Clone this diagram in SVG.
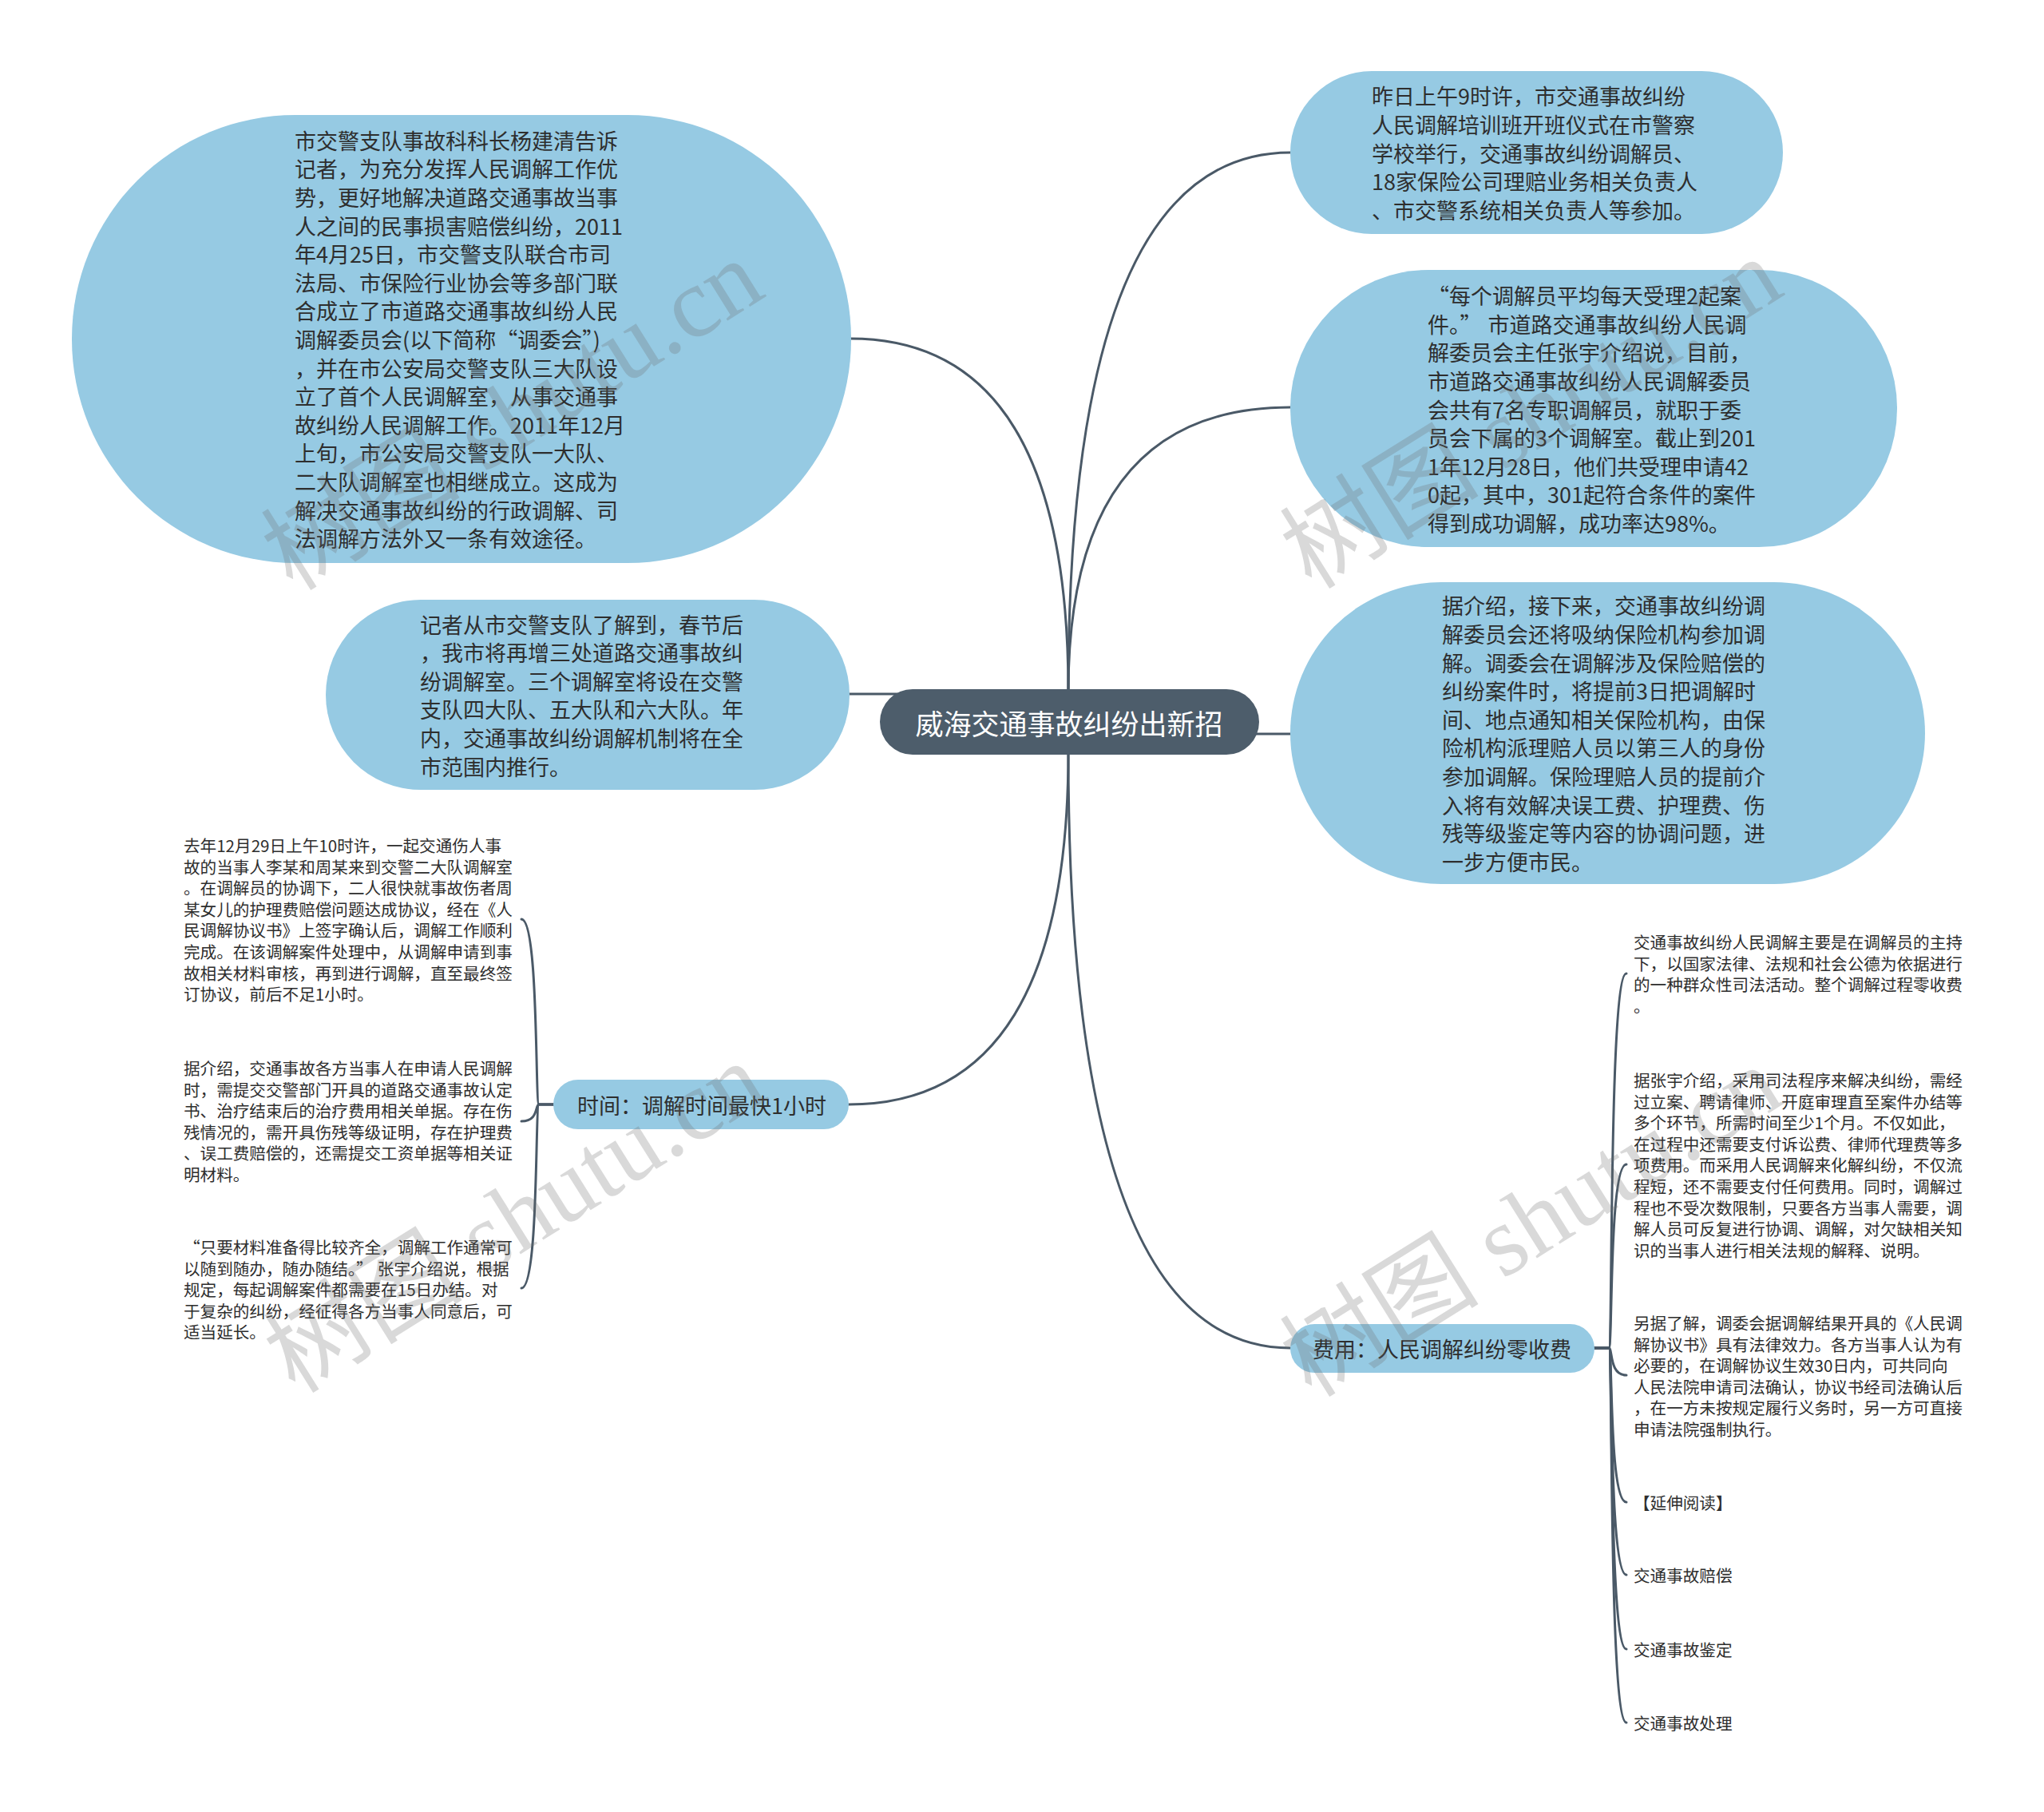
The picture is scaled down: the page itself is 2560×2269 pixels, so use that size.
<svg xmlns="http://www.w3.org/2000/svg" width="2560" height="2269" viewBox="0 0 2560 2269">
<style>
.bg{fill:#ffffff}
.node{fill:#96cae3}
.root{fill:#4d5d6b}
.edge{fill:none;stroke:#4a5967;stroke-width:3;stroke-linecap:round}
.t{font-family:"Noto Sans CJK SC","Noto Sans",sans-serif;font-size:27px;fill:#2e2e2e;dominant-baseline:central}
.s{font-family:"Noto Sans CJK SC","Noto Sans",sans-serif;font-size:20.6px;fill:#2e2e2e;dominant-baseline:central}
.rt{font-family:"Noto Sans CJK SC","Noto Sans",sans-serif;font-size:35px;fill:#ffffff;dominant-baseline:central;text-anchor:middle}
.mt{font-family:"Noto Sans CJK SC","Noto Sans",sans-serif;font-size:27px;fill:#2e2e2e;dominant-baseline:central;text-anchor:middle}
.wm{font-family:"Liberation Serif","Noto Sans CJK SC",serif;font-size:125px;fill:#6e6e6e;fill-opacity:0.26;text-anchor:middle;dominant-baseline:central}
</style>
<rect class="bg" x="0" y="0" width="2560" height="2269"/>

<g id="connectors">
<path class="edge" d="M1338 866 Q1338 424 1065 424"/>
<path class="edge" d="M1338 866 Q1338 191 1616 191"/>
<path class="edge" d="M1338 866 Q1338 510 1616 510"/>
<path class="edge" d="M1125 869 L1062 869"/>
<path class="edge" d="M1568 919 L1616 919"/>
<path class="edge" d="M1338 942 Q1338 1383 1063 1383"/>
<path class="edge" d="M1338 942 Q1338 1688 1616 1688"/>
<path class="edge" d="M693 1383 L675 1383 C670 1383 675 1151 653 1151"/>
<path class="edge" d="M693 1383 L675 1383 C670 1383 675 1404 653 1404"/>
<path class="edge" d="M693 1383 L675 1383 C670 1383 675 1613 653 1613"/>
<path class="edge" d="M1997 1688 L2015 1688 C2020 1688 2015 1219 2037 1219"/>
<path class="edge" d="M1997 1688 L2015 1688 C2020 1688 2015 1458 2037 1458"/>
<path class="edge" d="M1997 1688 L2015 1688 C2020 1688 2015 1722 2037 1722"/>
<path class="edge" d="M1997 1688 L2015 1688 C2020 1688 2015 1881 2037 1881"/>
<path class="edge" d="M1997 1688 L2015 1688 C2020 1688 2015 1972 2037 1972"/>
<path class="edge" d="M1997 1688 L2015 1688 C2020 1688 2015 2065 2037 2065"/>
<path class="edge" d="M1997 1688 L2015 1688 C2020 1688 2015 2157 2037 2157"/>
</g>

<g id="root">
<rect class="root" x="1102" y="863" width="475" height="82" rx="41"/>
<text class="rt" x="1339" y="904">威海交通事故纠纷出新招</text>
</g>

<g id="node-left-1">
<rect class="node" x="90" y="144" width="976" height="561" rx="280"/>
<text class="t" x="369" y="175.3">市交警支队事故科科长杨建清告诉</text>
<text class="t" x="369" y="210.9">记者，为充分发挥人民调解工作优</text>
<text class="t" x="369" y="246.5">势，更好地解决道路交通事故当事</text>
<text class="t" x="369" y="282.1">人之间的民事损害赔偿纠纷，2011</text>
<text class="t" x="369" y="317.7">年4月25日，市交警支队联合市司</text>
<text class="t" x="369" y="353.3">法局、市保险行业协会等多部门联</text>
<text class="t" x="369" y="388.9">合成立了市道路交通事故纠纷人民</text>
<text class="t" x="369" y="424.5">调解委员会(以下简称“调委会”)</text>
<text class="t" x="369" y="460.1">，并在市公安局交警支队三大队设</text>
<text class="t" x="369" y="495.7">立了首个人民调解室，从事交通事</text>
<text class="t" x="369" y="531.3">故纠纷人民调解工作。2011年12月</text>
<text class="t" x="369" y="566.9">上旬，市公安局交警支队一大队、</text>
<text class="t" x="369" y="602.5">二大队调解室也相继成立。这成为</text>
<text class="t" x="369" y="638.1">解决交通事故纠纷的行政调解、司</text>
<text class="t" x="369" y="673.7">法调解方法外又一条有效途径。</text>
</g>

<g id="node-left-2">
<rect class="node" x="408" y="751" width="656" height="238" rx="119"/>
<text class="t" x="526" y="781">记者从市交警支队了解到，春节后</text>
<text class="t" x="526" y="816.6">，我市将再增三处道路交通事故纠</text>
<text class="t" x="526" y="852.2">纷调解室。三个调解室将设在交警</text>
<text class="t" x="526" y="887.8">支队四大队、五大队和六大队。年</text>
<text class="t" x="526" y="923.4">内，交通事故纠纷调解机制将在全</text>
<text class="t" x="526" y="959">市范围内推行。</text>
</g>

<g id="node-time">
<rect class="node" x="693" y="1352" width="370" height="62" rx="31"/>
<text class="mt" x="879" y="1383">时间：调解时间最快1小时</text>
</g>

<g id="leaf-time-1">
<text class="s" x="230" y="1058">去年12月29日上午10时许，一起交通伤人事</text>
<text class="s" x="230" y="1084.6">故的当事人李某和周某来到交警二大队调解室</text>
<text class="s" x="230" y="1111.2">。在调解员的协调下，二人很快就事故伤者周</text>
<text class="s" x="230" y="1137.8">某女儿的护理费赔偿问题达成协议，经在《人</text>
<text class="s" x="230" y="1164.4">民调解协议书》上签字确认后，调解工作顺利</text>
<text class="s" x="230" y="1191">完成。在该调解案件处理中，从调解申请到事</text>
<text class="s" x="230" y="1217.6">故相关材料审核，再到进行调解，直至最终签</text>
<text class="s" x="230" y="1244.2">订协议，前后不足1小时。</text>
</g>

<g id="leaf-time-2">
<text class="s" x="230" y="1337">据介绍，交通事故各方当事人在申请人民调解</text>
<text class="s" x="230" y="1363.6">时，需提交交警部门开具的道路交通事故认定</text>
<text class="s" x="230" y="1390.2">书、治疗结束后的治疗费用相关单据。存在伤</text>
<text class="s" x="230" y="1416.8">残情况的，需开具伤残等级证明，存在护理费</text>
<text class="s" x="230" y="1443.4">、误工费赔偿的，还需提交工资单据等相关证</text>
<text class="s" x="230" y="1470">明材料。</text>
</g>

<g id="leaf-time-3">
<text class="s" x="230" y="1561">“只要材料准备得比较齐全，调解工作通常可</text>
<text class="s" x="230" y="1587.6">以随到随办，随办随结。”<tspan dx="6">张宇介绍说，根据</tspan></text>
<text class="s" x="230" y="1614.2">规定，每起调解案件都需要在15日办结。对</text>
<text class="s" x="230" y="1640.8">于复杂的纠纷，经征得各方当事人同意后，可</text>
<text class="s" x="230" y="1667.4">适当延长。</text>
</g>

<g id="node-right-1">
<rect class="node" x="1616" y="89" width="617" height="204" rx="102"/>
<text class="t" x="1718" y="119.8">昨日上午9时许，市交通事故纠纷</text>
<text class="t" x="1718" y="155.4">人民调解培训班开班仪式在市警察</text>
<text class="t" x="1718" y="191">学校举行，交通事故纠纷调解员、</text>
<text class="t" x="1718" y="226.6">18家保险公司理赔业务相关负责人</text>
<text class="t" x="1718" y="262.2">、市交警系统相关负责人等参加。</text>
</g>

<g id="node-right-2">
<rect class="node" x="1616" y="338" width="760" height="347" rx="173"/>
<text class="t" x="1788" y="369.6">“每个调解员平均每天受理2起案</text>
<text class="t" x="1788" y="405.2">件。”<tspan dx="8">市道路交通事故纠纷人民调</tspan></text>
<text class="t" x="1788" y="440.8">解委员会主任张宇介绍说，目前，</text>
<text class="t" x="1788" y="476.4">市道路交通事故纠纷人民调解委员</text>
<text class="t" x="1788" y="512">会共有7名专职调解员，就职于委</text>
<text class="t" x="1788" y="547.6">员会下属的3个调解室。截止到201</text>
<text class="t" x="1788" y="583.2">1年12月28日，他们共受理申请42</text>
<text class="t" x="1788" y="618.8">0起，其中，301起符合条件的案件</text>
<text class="t" x="1788" y="654.4">得到成功调解，成功率达98%。</text>
</g>

<g id="node-right-3">
<rect class="node" x="1616" y="729" width="795" height="378" rx="189"/>
<text class="t" x="1806" y="757.8">据介绍，接下来，交通事故纠纷调</text>
<text class="t" x="1806" y="793.4">解委员会还将吸纳保险机构参加调</text>
<text class="t" x="1806" y="829">解。调委会在调解涉及保险赔偿的</text>
<text class="t" x="1806" y="864.6">纠纷案件时，将提前3日把调解时</text>
<text class="t" x="1806" y="900.2">间、地点通知相关保险机构，由保</text>
<text class="t" x="1806" y="935.8">险机构派理赔人员以第三人的身份</text>
<text class="t" x="1806" y="971.4">参加调解。保险理赔人员的提前介</text>
<text class="t" x="1806" y="1007">入将有效解决误工费、护理费、伤</text>
<text class="t" x="1806" y="1042.6">残等级鉴定等内容的协调问题，进</text>
<text class="t" x="1806" y="1078.2">一步方便市民。</text>
</g>

<g id="node-fee">
<rect class="node" x="1616" y="1658" width="381" height="61" rx="30.5"/>
<text class="mt" x="1806" y="1688">费用：人民调解纠纷零收费</text>
</g>

<g id="leaf-fee-1">
<text class="s" x="2046" y="1179">交通事故纠纷人民调解主要是在调解员的主持</text>
<text class="s" x="2046" y="1205.6">下，以国家法律、法规和社会公德为依据进行</text>
<text class="s" x="2046" y="1232.2">的一种群众性司法活动。整个调解过程零收费</text>
<text class="s" x="2046" y="1258.8">。</text>
</g>

<g id="leaf-fee-2">
<text class="s" x="2046" y="1352">据张宇介绍，采用司法程序来解决纠纷，需经</text>
<text class="s" x="2046" y="1378.6">过立案、聘请律师、开庭审理直至案件办结等</text>
<text class="s" x="2046" y="1405.2">多个环节，所需时间至少1个月。不仅如此，</text>
<text class="s" x="2046" y="1431.8">在过程中还需要支付诉讼费、律师代理费等多</text>
<text class="s" x="2046" y="1458.4">项费用。而采用人民调解来化解纠纷，不仅流</text>
<text class="s" x="2046" y="1485">程短，还不需要支付任何费用。同时，调解过</text>
<text class="s" x="2046" y="1511.6">程也不受次数限制，只要各方当事人需要，调</text>
<text class="s" x="2046" y="1538.2">解人员可反复进行协调、调解，对欠缺相关知</text>
<text class="s" x="2046" y="1564.8">识的当事人进行相关法规的解释、说明。</text>
</g>

<g id="leaf-fee-3">
<text class="s" x="2046" y="1656">另据了解，调委会据调解结果开具的《人民调</text>
<text class="s" x="2046" y="1682.6">解协议书》具有法律效力。各方当事人认为有</text>
<text class="s" x="2046" y="1709.2">必要的，在调解协议生效30日内，可共同向</text>
<text class="s" x="2046" y="1735.8">人民法院申请司法确认，协议书经司法确认后</text>
<text class="s" x="2046" y="1762.4">，在一方未按规定履行义务时，另一方可直接</text>
<text class="s" x="2046" y="1789">申请法院强制执行。</text>
</g>

<g id="leaf-fee-4"><text class="s" x="2046" y="1881">【延伸阅读】</text></g>
<g id="leaf-fee-5"><text class="s" x="2046" y="1972">交通事故赔偿</text></g>
<g id="leaf-fee-6"><text class="s" x="2046" y="2065">交通事故鉴定</text></g>
<g id="leaf-fee-7"><text class="s" x="2046" y="2157">交通事故处理</text></g>

<g id="watermark">
<text class="wm" transform="translate(642 520) rotate(-32)">树图 shutu.cn</text>
<text class="wm" transform="translate(1918 518) rotate(-32)">树图 shutu.cn</text>
<text class="wm" transform="translate(645 1525) rotate(-32)">树图 shutu.cn</text>
<text class="wm" transform="translate(1918 1530) rotate(-32)">树图 shutu.cn</text>
</g>
</svg>
